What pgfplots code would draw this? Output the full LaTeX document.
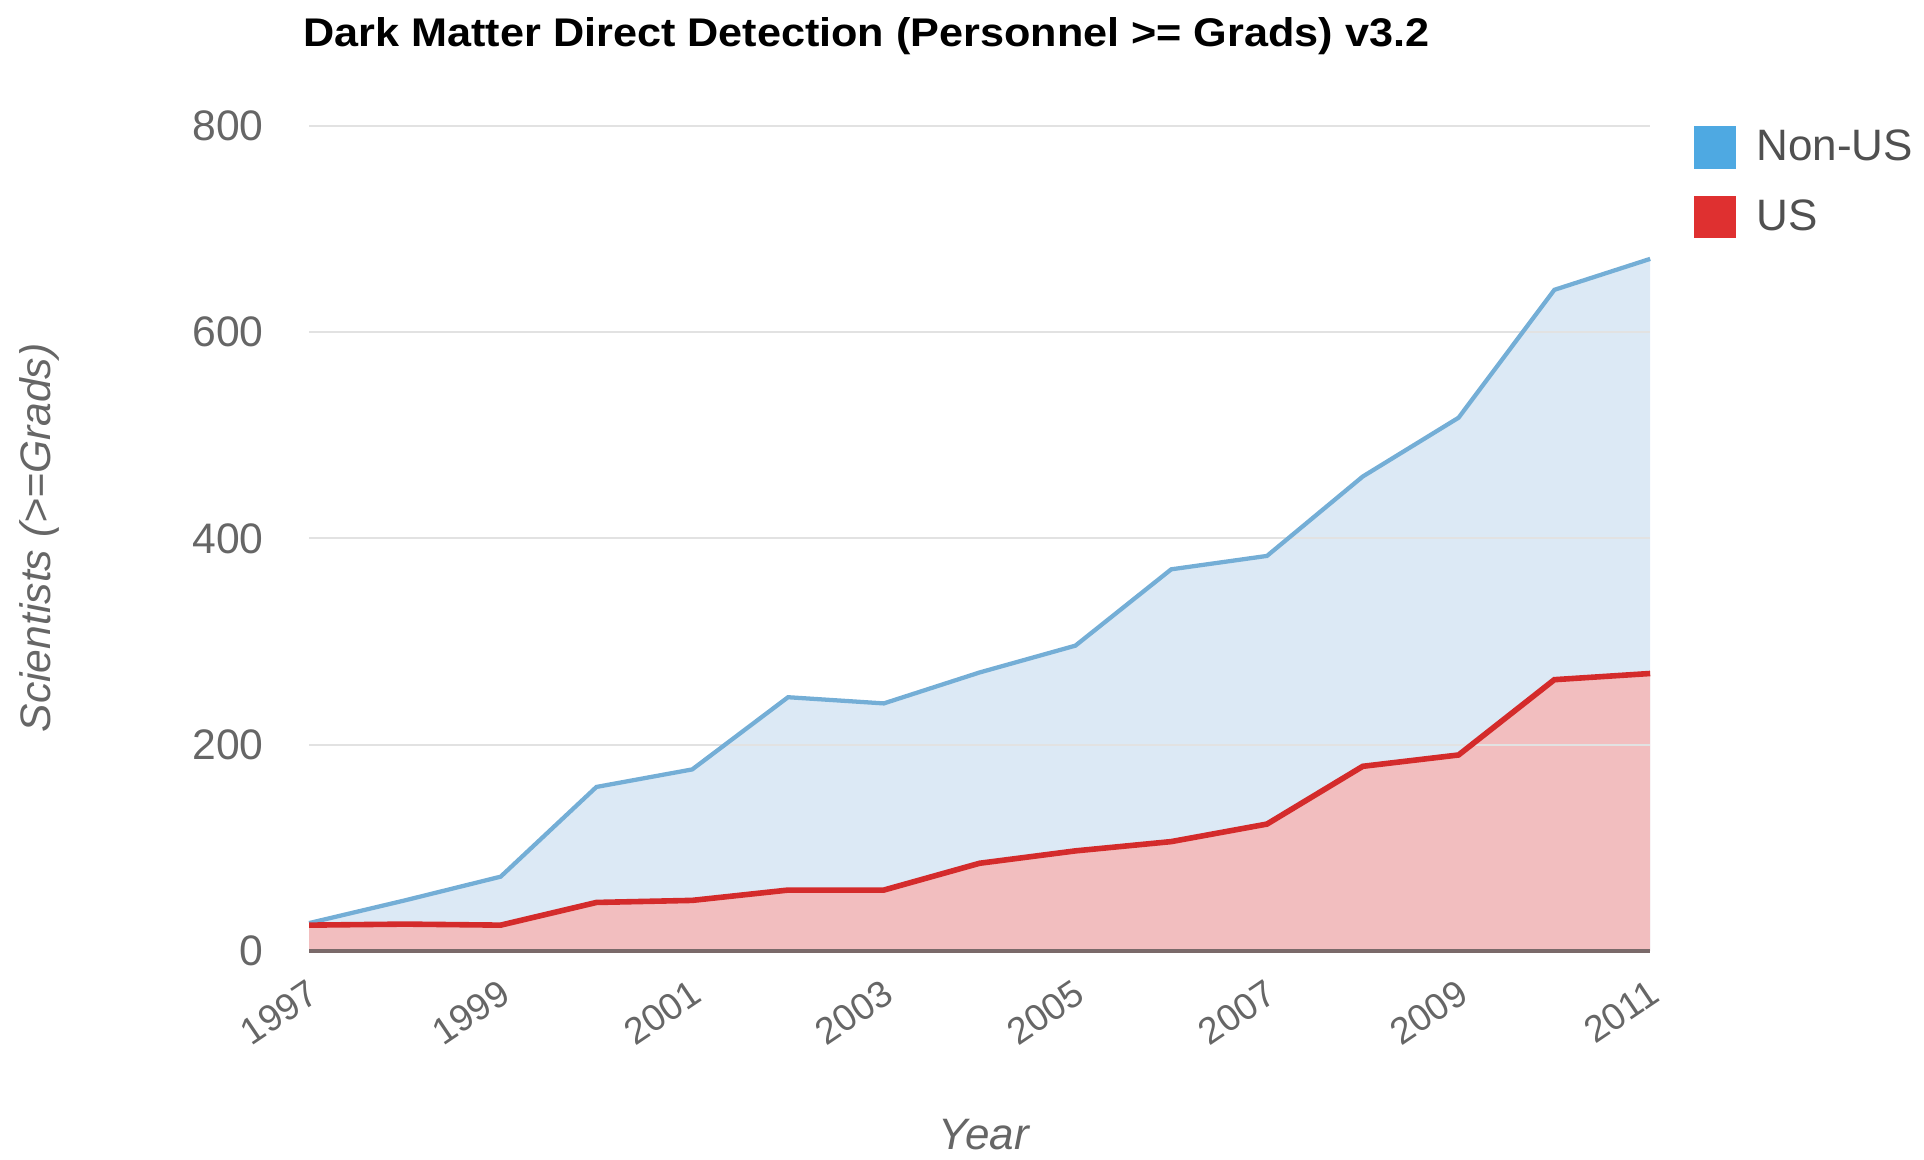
\documentclass[border=0pt]{standalone}
\usepackage{fontspec}
\setmainfont{Liberation Sans}
\usepackage{pgfplots}
\usepackage{pgfplotstable}
\pgfplotsset{compat=1.18}
\definecolor{nonusfill}{HTML}{DCE9F5}
\definecolor{usfill}{HTML}{F2BEBF}
\definecolor{nonusline}{HTML}{74AED6}
\definecolor{usline}{HTML}{D42B2B}
\definecolor{legblue}{HTML}{4EA9E2}
\definecolor{legred}{HTML}{DF3030}
\definecolor{ticktext}{HTML}{666666}
\definecolor{legtext}{HTML}{505050}
\definecolor{basel}{HTML}{7A6A6A}
\definecolor{gridc}{HTML}{E2E2E2}

% year, US, total (US + Non-US, stacked top)
\pgfplotstableread{
year us total
1997 25 27
1998 26 49
1999 25 72
2000 47 159
2001 49 176
2002 59 246
2003 59 240
2004 85 270
2005 97 296
2006 106 370
2007 123 383
2008 179 460
2009 190 517
2010 263 641
2011 269 671
}\data

\begin{document}
\begin{tikzpicture}
\begin{axis}[
  set layers,
  at={(0,0)}, anchor=south west,
  scale only axis, width=502.9pt, height=309.4pt,
  xmin=1997, xmax=2011, ymin=0, ymax=800,
  axis x line*=bottom, axis y line*=left,
  y axis line style={draw=none},
  x axis line style={draw=basel, line width=1.5pt, -},
  xtick={1997,1999,...,2011},
  ytick={0,200,...,800},
  major tick length=0pt,
  ymajorgrids, grid style={draw=gridc, line width=0.8pt},
  /pgf/number format/assume math mode=true,
  /pgf/number format/1000 sep={},
  tick label style={text=ticktext},
  yticklabel style={font=\fontsize{16}{16}\selectfont, anchor=east, inner sep=0pt, xshift=-16.9pt},
  xticklabel style={font=\fontsize{14}{14}\selectfont, anchor=north east, inner sep=0pt, xshift=-1pt, yshift=-10pt, rotate=34},
  clip=false,
  legend style={at={(rel axis cs:1.032,1.0055)}, anchor=north west, draw=none, fill=none,
    font=\fontsize{16.5}{16.5}\selectfont, text=legtext, row sep=7.2pt, inner sep=0pt,
    nodes={inner sep=3pt}},
  legend cell align=left,
  legend image code/.code={\fill[#1, draw=none] (0pt,-8pt) rectangle (16pt,8pt); \path[draw=none, fill=none] (0pt,0pt) -- (20.6pt,0pt);},
]
\addplot[fill=nonusfill, draw=none, on layer=axis background, forget plot] table[x=year, y=total] {\data} \closedcycle;
\addplot[fill=usfill, draw=none, on layer=axis background, forget plot] table[x=year, y=us] {\data} \closedcycle;
\addplot[draw=nonusline, line width=1.6pt, forget plot] table[x=year, y=total] {\data};
\addplot[draw=usline, line width=2.1pt, forget plot] table[x=year, y=us] {\data};
\addlegendimage{fill=legblue}
\addlegendentry{Non-US}
\addlegendimage{fill=legred}
\addlegendentry{US}
\end{axis}
\node[anchor=base, font=\bfseries\fontsize{15}{15}\selectfont] at (209pt,339pt) {\scalebox{1.08}[1]{Dark Matter Direct Detection (Personnel >= Grads) v3.2}};
\node[font=\itshape\fontsize{16}{16}\selectfont, text=ticktext, rotate=90] at (-101pt,154.9pt) {Scientists (>=Grads)};
\node[font=\itshape\fontsize{16.5}{16.5}\selectfont, text=ticktext] at (253pt,-69pt) {Year};
\pgfresetboundingbox
\path[use as bounding box] (-115.9pt,-78.4pt) rectangle (605.6pt,356.6pt);
\end{tikzpicture}
\end{document}
